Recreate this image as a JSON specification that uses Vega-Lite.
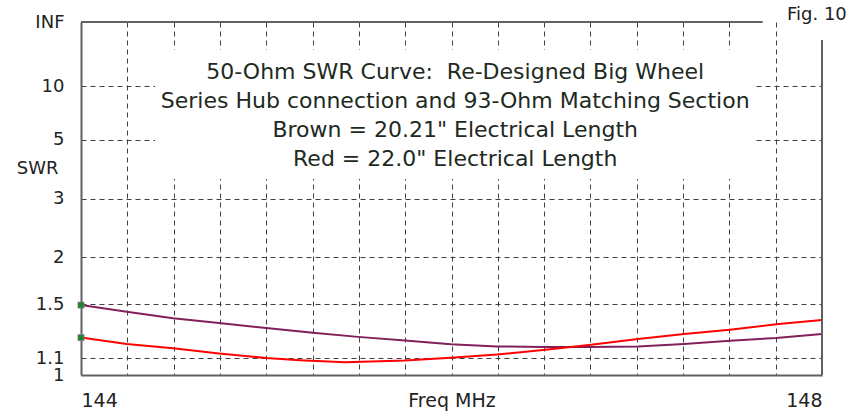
{
  "$schema": "https://vega.github.io/schema/vega-lite/v6.json",
  "width": 741,
  "height": 353,
  "autosize": {"type": "none"},
  "padding": {"left": 81, "top": 22, "right": 40, "bottom": 41},
  "background": "white",
  "config": {
    "view": {"stroke": null},
    "font": "DejaVu Sans",
    "axis": {"labelFont": "DejaVu Sans", "titleFont": "DejaVu Sans", "labelColor": "#222", "titleColor": "#222", "titleFontWeight": "normal"}
  },
  "datasets": {
    "curves": [
      {"freq": 144.000, "rho": 0.198, "series": "Brown"},
      {"freq": 144.247, "rho": 0.179, "series": "Brown"},
      {"freq": 144.497, "rho": 0.161, "series": "Brown"},
      {"freq": 144.745, "rho": 0.147, "series": "Brown"},
      {"freq": 144.999, "rho": 0.133, "series": "Brown"},
      {"freq": 145.252, "rho": 0.120, "series": "Brown"},
      {"freq": 145.495, "rho": 0.108, "series": "Brown"},
      {"freq": 145.749, "rho": 0.098, "series": "Brown"},
      {"freq": 145.997, "rho": 0.087, "series": "Brown"},
      {"freq": 146.246, "rho": 0.081, "series": "Brown"},
      {"freq": 146.494, "rho": 0.079, "series": "Brown"},
      {"freq": 146.742, "rho": 0.079, "series": "Brown"},
      {"freq": 147.007, "rho": 0.081, "series": "Brown"},
      {"freq": 147.255, "rho": 0.088, "series": "Brown"},
      {"freq": 147.503, "rho": 0.097, "series": "Brown"},
      {"freq": 147.752, "rho": 0.105, "series": "Brown"},
      {"freq": 148.000, "rho": 0.116, "series": "Brown"},
      {"freq": 144.000, "rho": 0.106, "series": "Red"},
      {"freq": 144.247, "rho": 0.088, "series": "Red"},
      {"freq": 144.497, "rho": 0.076, "series": "Red"},
      {"freq": 144.745, "rho": 0.061, "series": "Red"},
      {"freq": 144.999, "rho": 0.048, "series": "Red"},
      {"freq": 145.182, "rho": 0.042, "series": "Red"},
      {"freq": 145.425, "rho": 0.036, "series": "Red"},
      {"freq": 145.749, "rho": 0.041, "series": "Red"},
      {"freq": 145.997, "rho": 0.049, "series": "Red"},
      {"freq": 146.246, "rho": 0.058, "series": "Red"},
      {"freq": 146.494, "rho": 0.071, "series": "Red"},
      {"freq": 146.742, "rho": 0.085, "series": "Red"},
      {"freq": 147.007, "rho": 0.102, "series": "Red"},
      {"freq": 147.255, "rho": 0.116, "series": "Red"},
      {"freq": 147.503, "rho": 0.128, "series": "Red"},
      {"freq": 147.752, "rho": 0.144, "series": "Red"},
      {"freq": 148.000, "rho": 0.156, "series": "Red"}
    ],
    "starts": [
      {"freq": 144.0, "rho": 0.198},
      {"freq": 144.0, "rho": 0.106}
    ]
  },
  "layer": [
    {
      "data": {"name": "curves"},
      "mark": {"type": "line", "strokeWidth": 2, "clip": true},
      "encoding": {
        "x": {
          "field": "freq", "type": "quantitative",
          "scale": {"domain": [144, 148], "nice": false, "zero": false},
          "axis": {
            "values": [144, 144.25, 144.5, 144.75, 145, 145.25, 145.5, 145.75, 146, 146.25, 146.5, 146.75, 147, 147.25, 147.5, 147.75, 148],
            "labelExpr": "datum.value == 144 || datum.value == 148 ? datum.value : ''",
            "labelFlush": true,
            "labelOverlap": false,
            "labelFontSize": 19,
            "labelPadding": 16,
            "tickSize": 0,
            "domainColor": "#606060",
            "domainWidth": 2,
            "grid": true,
            "gridColor": "#404040",
            "gridDash": [5, 4],
            "gridWidth": 1,
            "gridOpacity": {"condition": {"test": "datum.value <= 144 || datum.value >= 148", "value": 0}, "value": 1},
            "title": "Freq MHz",
            "titleFontSize": 19,
            "titleY": 16,
            "titleBaseline": "top"
          }
        },
        "y": {
          "field": "rho", "type": "quantitative",
          "scale": {"domain": [0, 1], "nice": false},
          "axis": {
            "values": [0, 0.047619, 0.2, 0.333333, 0.5, 0.666667, 0.818182, 1],
            "labelExpr": "datum.value >= 0.999 ? 'INF' : datum.value > 0.8 ? '10' : datum.value > 0.6 ? '5' : datum.value > 0.45 ? '3' : datum.value > 0.3 ? '2' : datum.value > 0.15 ? '1.5' : datum.value > 0.03 ? '1.1' : '1'",
            "labelOverlap": false,
            "labelFontSize": 18,
            "labelPadding": 17,
            "tickSize": 0,
            "domainColor": "#606060",
            "domainWidth": 2,
            "grid": true,
            "gridColor": "#404040",
            "gridDash": [5, 4],
            "gridWidth": 1,
            "gridOpacity": {"condition": {"test": "datum.value <= 0.001 || datum.value >= 0.999", "value": 0}, "value": 1},
            "title": "SWR",
            "titleFontSize": 18,
            "titleAngle": 0,
            "titleAlign": "right",
            "titleBaseline": "middle",
            "titleX": -23,
            "titleY": 146
          }
        },
        "color": {
          "field": "series", "type": "nominal",
          "scale": {"domain": ["Brown", "Red"], "range": ["#82205a", "#ff0000"]},
          "legend": null
        }
      }
    },
    {
      "data": {"values": [{}]},
      "mark": {"type": "rect", "fill": "white", "stroke": null},
      "encoding": {
        "x": {"datum": 144.40, "type": "quantitative"},
        "x2": {"datum": 147.64},
        "y": {"datum": 0.921, "type": "quantitative"},
        "y2": {"datum": 0.555}
      }
    },
    {
      "data": {"values": [{}]},
      "mark": {"type": "text", "align": "center", "baseline": "middle", "fontSize": 22, "lineHeight": 29, "color": "#1e2a1e", "font": "DejaVu Sans",
        "text": ["50-Ohm SWR Curve: \u00a0Re-Designed Big Wheel", "Series Hub connection and 93-Ohm Matching Section", "Brown = 20.21\" Electrical Length", "Red = 22.0\" Electrical Length"]},
      "encoding": {
        "x": {"datum": 146.02, "type": "quantitative"},
        "y": {"datum": 0.857, "type": "quantitative"}
      }
    },
    {
      "data": {"values": [{}]},
      "mark": {"type": "rule", "color": "#606060", "strokeWidth": 2},
      "encoding": {
        "x": {"datum": 144, "type": "quantitative"},
        "x2": {"datum": 147.68},
        "y": {"datum": 1, "type": "quantitative"}
      }
    },
    {
      "data": {"values": [{}]},
      "mark": {"type": "rule", "color": "#606060", "strokeWidth": 2},
      "encoding": {
        "x": {"datum": 148, "type": "quantitative"},
        "y": {"datum": 0, "type": "quantitative"},
        "y2": {"datum": 0.949}
      }
    },
    {
      "data": {"values": [{}]},
      "mark": {"type": "text", "text": "Fig. 10", "align": "left", "baseline": "middle", "dx": -35, "dy": -7, "fontSize": 18, "color": "#222", "font": "DejaVu Sans"},
      "encoding": {
        "x": {"datum": 148, "type": "quantitative"},
        "y": {"datum": 1, "type": "quantitative"}
      }
    },
    {
      "data": {"name": "starts"},
      "mark": {"type": "point", "shape": "square", "filled": true, "size": 40, "color": "#1a8a2a", "stroke": "#d070d0", "strokeWidth": 0.5, "opacity": 1},
      "encoding": {
        "x": {"field": "freq", "type": "quantitative"},
        "y": {"field": "rho", "type": "quantitative"}
      }
    }
  ]
}
